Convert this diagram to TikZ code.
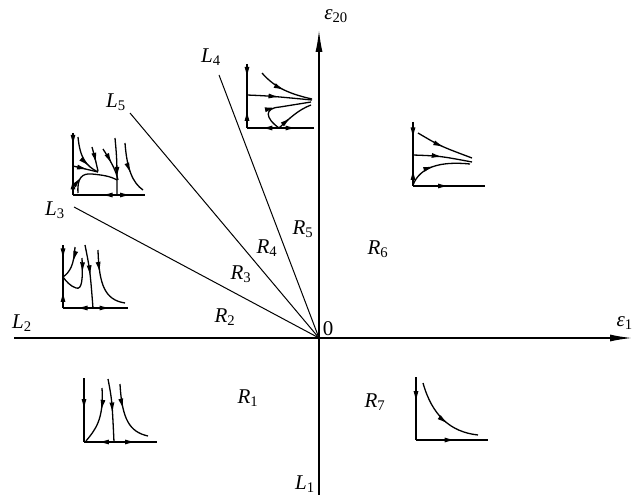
\documentclass[tikz,border=0pt]{standalone}
\usepackage{fontspec}
\setmainfont{Liberation Serif}
\usetikzlibrary{arrows.meta,decorations.markings}
\newcommand{\lbl}[2]{\textit{#1}\textsubscript{#2}}
\tikzset{
  axisline/.style={line width=1.4pt},
  ray/.style={line width=1pt},
  traj/.style={line width=1.3pt},
  midarr/.style={postaction={decorate},decoration={markings,
     mark=at position #1 with {\arrow{Latex[length=11pt,width=5pt]}}}},
  txt/.style={inner sep=0pt,font=\fontsize{21}{24}\selectfont}
}
\begin{document}
\begin{tikzpicture}[x=1pt,y=-1pt]
\useasboundingbox (0,0) rectangle (633,495);
% main axes
\coordinate (O) at (319,338);
\coordinate (xl) at (14,338);
\coordinate (xr) at (632,338);
\coordinate (yb) at (319,495);
\coordinate (yt) at (319,30);
\draw[axisline] (xl) -- (O);
\draw[axisline,-{Latex[length=22pt,width=7pt]}] (O) -- (xr);
\draw[axisline] (yb) -- (O);
\draw[axisline,-{Latex[length=22pt,width=7pt]}] (O) -- (yt);
% rays
\coordinate (l4) at (219,75);
\coordinate (l5) at (130,113);
\coordinate (l3) at (74,207);
\draw[ray] (l4) -- (O);
\draw[ray] (l5) -- (O);
\draw[ray] (l3) -- (O);
% labels
\node[txt] (e20) at (336,16) {\textit{ε}\textsubscript{20}};
\node[txt,anchor=east] (e1) at (633,323) {\textit{ε}\textsubscript{1}};
\node[txt] (L2) at (22,323) {\lbl{L}{2}};
\node[txt] (zero) at (328,329) {0};
\node[txt] (L1) at (305,484) {\lbl{L}{1}};
\node[txt] (L4) at (211,57) {\lbl{L}{4}};
\node[txt] (L5) at (116,102) {\lbl{L}{5}};
\node[txt] (L3) at (55,210) {\lbl{L}{3}};
\node[txt] (R1) at (248,398) {\lbl{R}{1}};
\node[txt] (R7) at (375,402) {\lbl{R}{7}};
\node[txt] (R2) at (225,317) {\lbl{R}{2}};
\node[txt] (R3) at (241,274) {\lbl{R}{3}};
\node[txt] (R4) at (267,248) {\lbl{R}{4}};
\node[txt] (R5) at (303,229) {\lbl{R}{5}};
\node[txt] (R6) at (378,249) {\lbl{R}{6}};

% ---- portrait in R5 ----
\begin{scope}[traj]
\draw[midarr=0.45] (247,64) -- (247,95);
\draw[midarr=0.55] (247,128) -- (247,95);
\draw[midarr=0.55] (279,128) -- (247,128);
\draw[midarr=0.5] (279,128) -- (314,128);
\draw[midarr=0.5] (262,73) .. controls (275,88) and (290,94) .. (312,99);
\draw[midarr=0.5] (247,95) .. controls (270,96) .. (312,100);
\draw[midarr=0.45] (279,128) .. controls (265,118) and (264,108) .. (280,107) -- (311,102);
\draw[midarr=0.4] (279,128) .. controls (290,118) and (298,110) .. (311,105);
\end{scope}

% ---- portrait in R6 ----
\begin{scope}[traj]
\draw[midarr=0.5] (413,122) -- (413,155);
\draw[midarr=0.55] (413,186) -- (413,155);
\draw[midarr=0.5] (413,186) -- (485,186);
\draw[midarr=0.5] (418,133) .. controls (440,146) .. (472,158);
\draw[midarr=0.5] (413,155) .. controls (440,156) .. (472,162);
\draw[midarr=0.45] (413,185) .. controls (420,167) and (440,161) .. (470,164);
\end{scope}

% ---- portrait in R7 ----
\begin{scope}[traj]
\draw[midarr=0.4] (416,377) -- (416,440);
\draw[midarr=0.55] (416,440) -- (488,440);
\draw[midarr=0.6] (423,383) .. controls (432,415) and (450,432) .. (478,435);
\end{scope}

% ---- portrait in R1 ----
\begin{scope}[traj]
\draw[midarr=0.5] (84,378) -- (84,442);
\draw[midarr=0.55] (115,442) -- (84,442);
\draw[midarr=0.5] (115,442) -- (157,442);
\draw[midarr=0.4] (102,388) .. controls (104,420) and (95,430) .. (86,441);
\draw[midarr=0.55] (108,379) .. controls (112,400) .. (114,442);
\draw[midarr=0.4] (120,384) .. controls (122,420) and (130,432) .. (148,436);
\end{scope}

% ---- portrait in R2 ----
\begin{scope}[traj]
\draw[midarr=0.45] (63,245) -- (63,277);
\draw[midarr=0.55] (63,308) -- (63,277);
\draw[midarr=0.55] (93,308) -- (63,308);
\draw[midarr=0.5] (93,308) -- (128,308);
\draw[midarr=0.45] (75,247) .. controls (74,265) and (70,272) .. (63,277);
\draw[midarr=0.3] (82,258) .. controls (83,280) and (82,290) .. (76,288) .. controls (70,286) and (66,281) .. (63,277);
\draw[midarr=0.5] (85,245) .. controls (90,270) .. (93,308);
\draw[midarr=0.35] (98,250) .. controls (99,285) and (105,300) .. (125,303);
\end{scope}

% ---- portrait in R3/R4 ----
\begin{scope}[traj]
\draw[midarr=0.4] (73,133) -- (73,165);
\draw[midarr=0.55] (73,195) -- (73,165);
\draw[midarr=0.35] (117,195) -- (73,195);
\draw[midarr=0.5] (117,195) -- (145,195);
\draw[midarr=0.75] (78,137) .. controls (80,158) and (86,166) .. (98,172);
\draw[midarr=0.6] (73,166) -- (98,172);
\draw[midarr=0.7] (92,147) .. controls (95,158) .. (98,171);
\draw[midarr=0.5] (103,149) .. controls (110,160) and (116,170) .. (118,180);
\draw[midarr=0.7] (115,138) .. controls (117,160) .. (117,195);
\draw[midarr=0.6] (125,143) .. controls (127,170) and (133,183) .. (143,190);
\draw[midarr=0.3] (78,193) .. controls (77,178) and (82,173) .. (92,174) .. controls (102,175) and (110,176) .. (117,180);
\end{scope}
\end{tikzpicture}
\end{document}
